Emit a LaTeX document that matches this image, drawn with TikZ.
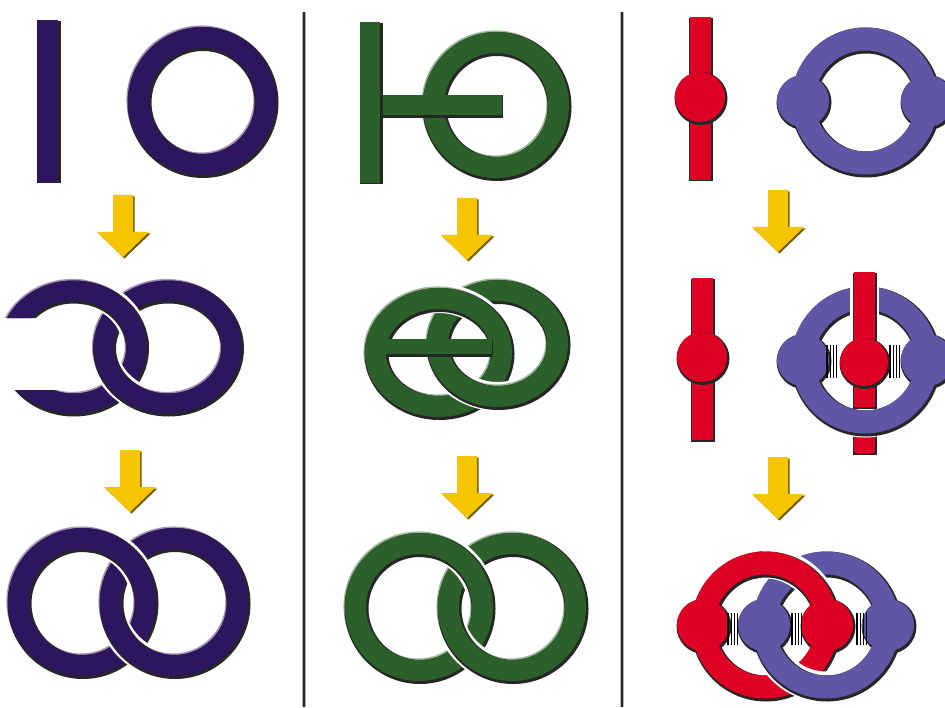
\documentclass[tikz,border=0pt]{standalone}

\definecolor{ink}{RGB}{46,22,94}
\definecolor{leaf}{RGB}{44,96,42}
\definecolor{cherry}{RGB}{222,0,36}
\definecolor{lilac}{RGB}{96,86,166}
\definecolor{amber}{RGB}{245,198,0}

\newcommand\px{0.02cm}

% ring: centre, x radius, y radius, width, colour
\newcommand\ring[5]{%
  \draw[#5!45!white,line width=(#4+1.5)*\px,shift={(-0.8,0.8)}] (#1) ellipse[x radius=#2,y radius=#3];
  \draw[black!85,line width=(#4+3)*\px,shift={(1,-1.5)}] (#1) ellipse[x radius=#2,y radius=#3];
  \draw[#5,line width=#4*\px] (#1) ellipse[x radius=#2,y radius=#3];}
% white gap round the strand that lies on top
\newcommand\casing[4]{\draw[white,line width=(#4+8)*\px] (#1) ellipse[x radius=#2,y radius=#3];}
% straight bar: from, to, width, colour
\newcommand\rod[4]{%
  \draw[black!85,line width=(#3+3)*\px,shift={(1,-1.5)}] #1 -- #2;
  \draw[#4,line width=#3*\px] #1 -- #2;}
\newcommand\bead[3]{%
  \fill[black!85,shift={(1,-1.5)}] (#1) circle[radius=#2+1.5];
  \fill[#3] (#1) circle[radius=#2];}
% ring with two knobs: centre x, centre y, colour
\newcommand\knobring[3]{%
  \begin{scope}[black!85,shift={(1,-1.5)}]
    \draw[line width=26*\px] (#1,#2) circle[radius=62];
    \fill (#1-62,#2) circle[radius=27.5] (#1+62,#2) circle[radius=27.5];
  \end{scope}
  \draw[#3,line width=23*\px] (#1,#2) circle[radius=62];
  \fill[#3] (#1-62,#2) circle[radius=26] (#1+62,#2) circle[radius=26];}
\newcommand\hatch[3]{%
  \foreach \i in {0,...,3} \draw[black,line width=1.1*\px] (#1+\i*3.3,#2) -- (#1+\i*3.3,#3);}
% yellow arrow: shaft centre x, top y
\newcommand\yarrow[2]{%
  \fill[amber!45!black,shift={(1.5,-1.5)}] (#1-10,#2) -- ++(20,0) -- ++(0,-37) -- ++(16,0)
    -- ++(-26,-25) -- ++(-26,25) -- ++(16,0) -- cycle;
  \fill[amber] (#1-10,#2) -- ++(20,0) -- ++(0,-37) -- ++(16,0)
    -- ++(-26,-25) -- ++(-26,25) -- ++(16,0) -- cycle;}

\begin{document}
\begin{tikzpicture}[x=\px,y=\px]
\useasboundingbox (0,0) rectangle (945,707);

% column rules
\foreach \sx in {304,622} {
  \draw[gray!60,line width=4*\px] (\sx,0) -- (\sx,695);
  \draw[black!85,line width=2*\px] (\sx,0) -- (\sx,695);
}

% first column
\rod{(47.5,687)}{(47.5,525)}{21}{ink}
\ring{202,606}{63.5}{63.5}{21}{ink}
\yarrow{123}{512}
\begin{scope}
  \clip (-20,0) rectangle (300,707) (60,317) rectangle (-20,389);
  \ring{73,360}{63.5}{56.5}{20}{ink}
\end{scope}
\casing{167.5,360}{64}{56.5}{20}
\ring{167.5,360}{64}{56.5}{20}{ink}
\begin{scope}
  \clip (85,370) rectangle (155,430);
  \casing{73,360}{63.5}{56.5}{20}
\end{scope}
\begin{scope}
  \clip (78,362) rectangle (162,440);
  \ring{73,360}{63.5}{56.5}{20}{ink}
\end{scope}
\yarrow{130}{257}
\ring{82,105}{63.5}{63.5}{21}{ink}
\casing{174,105}{63.5}{63.5}{21}
\ring{174,105}{63.5}{63.5}{21}{ink}
\begin{scope}
  \clip (93,120) rectangle (163,185);
  \casing{82,105}{63.5}{63.5}{21}
\end{scope}
\begin{scope}
  \clip (85,112) rectangle (171,200);
  \ring{82,105}{63.5}{63.5}{21}{ink}
\end{scope}

% second column
\ring{496,602}{62.5}{62.5}{21}{leaf}
\rod{(370,602)}{(502,602)}{20}{leaf}
\rod{(370,685)}{(370,524)}{20}{leaf}
\yarrow{467}{509}
\ring{438.5,354.5}{63}{54}{21}{leaf}
\casing{497.5,363.5}{60}{53}{21}
\ring{497.5,363.5}{60}{53}{21}{leaf}
\rod{(386,360.5)}{(492,360.5)}{15}{leaf}
\begin{scope}
  \clip (430,380) rectangle (500,440);
  \casing{438.5,354.5}{63}{54}{21}
\end{scope}
\begin{scope}
  \clip (422,374) rectangle (508,448);
  \ring{438.5,354.5}{63}{54}{21}{leaf}
\end{scope}
\yarrow{467}{251}
\ring{419,100}{63.5}{63.5}{21}{leaf}
\casing{512,100}{63.5}{63.5}{21}
\ring{512,100}{63.5}{63.5}{21}{leaf}
\begin{scope}
  \clip (430,115) rectangle (500,180);
  \casing{419,100}{63.5}{63.5}{21}
\end{scope}
\begin{scope}
  \clip (422,108) rectangle (508,188);
  \ring{419,100}{63.5}{63.5}{21}{leaf}
\end{scope}

% third column
\rod{(700,690)}{(700,527)}{21}{cherry}
\bead{700,610}{25}{cherry}
\knobring{865}{606}{lilac}
\yarrow{778}{517}
\rod{(702,429)}{(702,267)}{21}{cherry}
\bead{702,350}{25}{cherry}
% rod threaded through the ring: lower end passes under it
\rod{(864,282)}{(864,254)}{21}{cherry}
\draw[white,line width=31*\px] (865,347) circle[radius=62];
\knobring{865}{347}{lilac}
\hatch{827}{329}{362}
\hatch{890}{329}{362}
\draw[white,line width=29*\px] (864,435) -- (864,300);
\rod{(864,435)}{(864,300)}{21}{cherry}
\bead{864,345}{24}{cherry}
\yarrow{778}{250}
\knobring{765}{82}{cherry}
\draw[white,line width=31*\px] (826,82) circle[radius=62];
\knobring{826}{82}{lilac}
\hatch{728}{62}{94}
\hatch{792}{62}{94}
\hatch{857}{62}{94}
\begin{scope}
  \clip (762,108) rectangle (830,172);
  \draw[white,line width=31*\px] (765,82) circle[radius=62];
\end{scope}
\begin{scope}
  \clip (755,106) rectangle (837,180);
  \knobring{765}{82}{cherry}
\end{scope}
\end{tikzpicture}
\end{document}
